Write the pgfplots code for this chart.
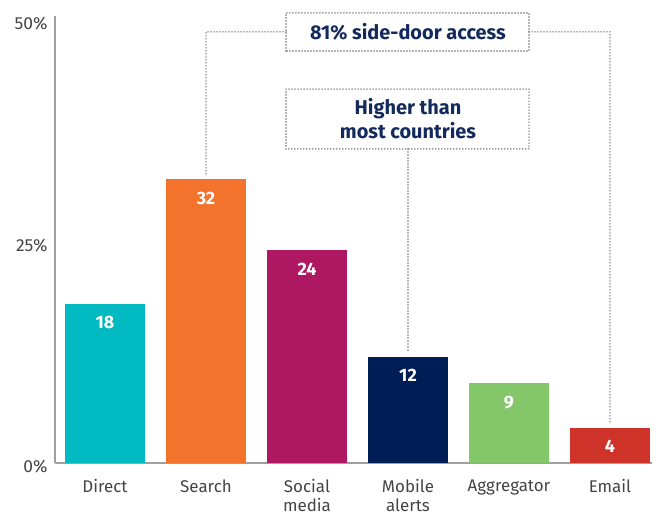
\documentclass[border=0pt]{standalone}
\usepackage{fontspec}
\setmainfont{Fira Sans}
\usepackage{pgfplots}
\pgfplotsset{compat=1.18}
\definecolor{cteal}{HTML}{00B9C1}
\definecolor{corange}{HTML}{F3722C}
\definecolor{cmag}{HTML}{AE1862}
\definecolor{cnavy}{HTML}{001E55}
\definecolor{cgreen}{HTML}{84C66A}
\definecolor{cred}{HTML}{CD3328}
\definecolor{tnavy}{HTML}{132A5E}
\definecolor{axgray}{HTML}{A0A0A0}
\definecolor{lblgray}{HTML}{444444}
\definecolor{dotgray}{HTML}{707070}
\begin{document}
\begin{tikzpicture}[x=1bp,y=1bp]
\useasboundingbox (0,0) rectangle (656,515);
\begin{axis}[
  at={(55bp,52bp)}, anchor=south west,
  scale only axis, width=597bp, height=447bp,
  xmin=-0.495, xmax=5.416, ymin=0, ymax=50.45,
  axis x line*=bottom, axis y line*=left,
  axis line style={-, draw=axgray, line width=1.6bp},
  ybar, bar width=0.8,
  /pgf/number format/assume math mode=true,
  ytick={0,25,50}, yticklabels={0\%,25\%,50\%},
  ytick style={draw=none}, xtick style={draw=none},
  yticklabel style={font=\fontsize{17.5}{19}\selectfont, text=lblgray, yshift=-4bp, xshift=-4bp},
  xtick={0,1,2,3,4,5},
  xticklabels={Direct,Search,Social\\media,Mobile\\alerts,Aggregator,Email},
  xticklabel style={font=\fontsize{17}{19}\selectfont, text=lblgray, align=center, yshift=-9bp},
  nodes near coords,
  nodes near coords style={anchor=center, yshift=-19bp, text=white, font=\bfseries\fontsize{18}{20}\selectfont},
  clip=false,
]
\addplot[fill=cteal, draw=none, bar shift=0pt] coordinates {(0,18)};
\addplot[fill=corange, draw=none, bar shift=0pt] coordinates {(1,32)};
\addplot[fill=cmag, draw=none, bar shift=0pt] coordinates {(2,24)};
\addplot[fill=cnavy, draw=none, bar shift=0pt] coordinates {(3,12)};
\addplot[fill=cgreen, draw=none, bar shift=0pt] coordinates {(4,9)};
\addplot[fill=cred, draw=none, bar shift=0pt] coordinates {(5,4)};
\tikzset{dotl/.style={draw=dotgray, line width=1.6bp, line cap=round, dash pattern=on 0bp off 3bp}}
\draw[dotl] (axis cs:1.792,46.5) rectangle (axis cs:4.198,50.79);
\draw[dotl] (axis cs:1.792,48.65) -| (axis cs:1,32.6);
\draw[dotl] (axis cs:4.198,48.65) -| (axis cs:5,4.45);
\draw[dotl] (axis cs:1.792,35.44) rectangle (axis cs:4.198,42.2);
\draw[dotl] (axis cs:3,35.44) -- (axis cs:3,12.55);
\node[text=tnavy, font=\bfseries\fontsize{20}{22}\selectfont] at (axis cs:3,48.65) {81\% side-door access};
\node[text=tnavy, font=\bfseries\fontsize{20}{24}\selectfont, align=center] at (axis cs:3,38.82) {Higher than\\most countries};
\end{axis}
\end{tikzpicture}
\end{document}
